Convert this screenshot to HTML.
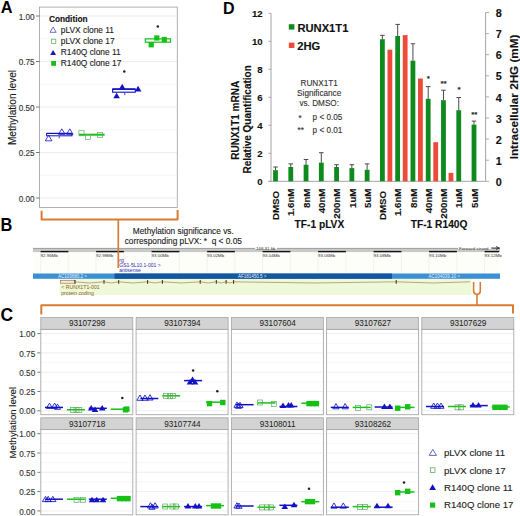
<!DOCTYPE html><html><head><meta charset="utf-8"><style>html,body{margin:0;padding:0;background:#fff;overflow:hidden}svg{display:block}text{font-family:"Liberation Sans",sans-serif}</style></head><body>
<svg width="520" height="516" viewBox="0 0 520 516">
<rect width="520" height="516" fill="#fff"/>
<text x="0" y="0" font-size="17" text-anchor="start" font-weight="bold" fill="#000" transform="translate(0.7,13.1) scale(0.96,1)">A</text>
<rect x="39.5" y="7.1" width="137.8" height="200.4" fill="#fff"/>
<line x1="39.5" x2="177.3" y1="198.0" y2="198.0" stroke="#e8e8e8" stroke-width="0.8"/>
<line x1="39.5" x2="177.3" y1="175.2" y2="175.2" stroke="#f3f3f3" stroke-width="0.8"/>
<line x1="39.5" x2="177.3" y1="152.5" y2="152.5" stroke="#e8e8e8" stroke-width="0.8"/>
<line x1="39.5" x2="177.3" y1="129.8" y2="129.8" stroke="#f3f3f3" stroke-width="0.8"/>
<line x1="39.5" x2="177.3" y1="107.0" y2="107.0" stroke="#e8e8e8" stroke-width="0.8"/>
<line x1="39.5" x2="177.3" y1="84.2" y2="84.2" stroke="#f3f3f3" stroke-width="0.8"/>
<line x1="39.5" x2="177.3" y1="61.5" y2="61.5" stroke="#e8e8e8" stroke-width="0.8"/>
<line x1="39.5" x2="177.3" y1="38.8" y2="38.8" stroke="#f3f3f3" stroke-width="0.8"/>
<line x1="39.5" x2="177.3" y1="16.0" y2="16.0" stroke="#e8e8e8" stroke-width="0.8"/>
<rect x="39.5" y="7.1" width="137.8" height="200.4" fill="none" stroke="#a8a8a8" stroke-width="0.9"/>
<line x1="36" x2="39.5" y1="16.0" y2="16.0" stroke="#555" stroke-width="0.8"/>
<text x="34.6" y="19.5" font-size="8.2" text-anchor="end" fill="#333" stroke="#333" stroke-width="0.12" >1.00</text>
<line x1="36" x2="39.5" y1="61.5" y2="61.5" stroke="#555" stroke-width="0.8"/>
<text x="34.6" y="65.0" font-size="8.2" text-anchor="end" fill="#333" stroke="#333" stroke-width="0.12" >0.75</text>
<line x1="36" x2="39.5" y1="107.0" y2="107.0" stroke="#555" stroke-width="0.8"/>
<text x="34.6" y="110.5" font-size="8.2" text-anchor="end" fill="#333" stroke="#333" stroke-width="0.12" >0.50</text>
<line x1="36" x2="39.5" y1="152.5" y2="152.5" stroke="#555" stroke-width="0.8"/>
<text x="34.6" y="156.0" font-size="8.2" text-anchor="end" fill="#333" stroke="#333" stroke-width="0.12" >0.25</text>
<line x1="36" x2="39.5" y1="198.0" y2="198.0" stroke="#555" stroke-width="0.8"/>
<text x="34.6" y="201.5" font-size="8.2" text-anchor="end" fill="#333" stroke="#333" stroke-width="0.12" >0.00</text>
<text x="0" y="0" font-size="10.1" text-anchor="middle" fill="#1a1a1a" stroke="#1a1a1a" stroke-width="0.12" transform="translate(16.3,107.5) rotate(-90)">Methylation level</text>
<text x="48.9" y="22.2" font-size="8.3" text-anchor="start" font-weight="bold" fill="#111" stroke="#111" stroke-width="0.12" >Condition</text>
<polygon points="53.1,27.0 50.0,32.3 56.2,32.3" fill="none" stroke="#4040b0" stroke-width="0.75"/>
<text x="60.8" y="33.4" font-size="8.4" text-anchor="start" fill="#222" stroke="#222" stroke-width="0.12" >pLVX clone 11</text>
<rect x="51.4" y="39.2" width="4.4" height="4.4" fill="none" stroke="#60b060" stroke-width="0.75"/>
<text x="60.8" y="44.4" font-size="8.4" text-anchor="start" fill="#222" stroke="#222" stroke-width="0.12" >pLVX clone 17</text>
<polygon points="53.1,50.0 50.2,55.1 56.0,55.1" fill="#1212c4"/>
<text x="60.8" y="55.4" font-size="8.4" text-anchor="start" fill="#222" stroke="#222" stroke-width="0.12" >R140Q clone 11</text>
<rect x="51.2" y="61.0" width="4.8" height="4.8" fill="#16c016"/>
<text x="60.8" y="66.3" font-size="8.4" text-anchor="start" fill="#222" stroke="#222" stroke-width="0.12" >R140Q clone 17</text>
<line x1="59.2" x2="59.2" y1="135.8" y2="138.3" stroke="#1212c4" stroke-width="0.8"/>
<rect x="46.6" y="133.5" width="25.4" height="2.3" fill="#fff" stroke="#1212c4" stroke-width="1.0"/>
<line x1="46.6" x2="72.0" y1="133.4" y2="133.4" stroke="#1212c4" stroke-width="1.3"/>
<polygon points="48.6,135.2 45.3,140.8 51.9,140.8" fill="none" stroke="#1212c4" stroke-width="0.8"/>
<polygon points="61.8,128.8 58.5,134.4 65.1,134.4" fill="none" stroke="#1212c4" stroke-width="0.8"/>
<polygon points="69.8,128.8 66.5,134.4 73.1,134.4" fill="none" stroke="#1212c4" stroke-width="0.8"/>
<line x1="79.0" x2="104.6" y1="134.7" y2="134.7" stroke="#16c016" stroke-width="2.0"/>
<rect x="78.9" y="130.7" width="5.1" height="5.1" fill="none" stroke="#58ac58" stroke-width="0.65"/>
<rect x="85.5" y="134.4" width="5.1" height="5.1" fill="none" stroke="#58ac58" stroke-width="0.65"/>
<rect x="97.5" y="132.6" width="5.1" height="5.1" fill="none" stroke="#58ac58" stroke-width="0.65"/>
<line x1="124.8" x2="124.8" y1="92.6" y2="95.2" stroke="#1212c4" stroke-width="0.8"/>
<rect x="112.6" y="89.0" width="22.7" height="3.2" fill="#fff" stroke="#1212c4" stroke-width="1.1"/>
<line x1="112.6" x2="135.3" y1="89.2" y2="89.2" stroke="#1212c4" stroke-width="1.5"/>
<polygon points="116.6,92.8 113.3,98.3 119.9,98.3" fill="#1212c4"/>
<polygon points="122.2,83.8 118.9,89.4 125.5,89.4" fill="#1212c4"/>
<polygon points="138.1,85.8 134.8,91.4 141.4,91.4" fill="#1212c4"/>
<rect x="145.3" y="38.9" width="25.2" height="3.3" fill="#fff" stroke="#16c016" stroke-width="1.2"/>
<rect x="148.6" y="42.2" width="5.2" height="5.2" fill="#16c016"/>
<rect x="154.2" y="35.4" width="5.2" height="5.2" fill="#16c016"/>
<rect x="161.7" y="36.9" width="5.2" height="5.2" fill="#16c016"/>
<circle cx="124.3" cy="71.5" r="1.25" fill="#222"/>
<circle cx="157.8" cy="26.5" r="1.25" fill="#222"/>
<path d="M41.6,210.8 L41.6,219.6 L177.6,219.6 L177.6,210" fill="none" stroke="#d87c34" stroke-width="2.0" stroke-linejoin="round"/>
<text x="0" y="0" font-size="18.6" text-anchor="start" font-weight="bold" fill="#000" transform="translate(0.6,231.4) scale(0.88,1)">B</text>
<text x="183.3" y="234.4" font-size="8.3" text-anchor="middle" fill="#222" stroke="#222" stroke-width="0.12" >Methylation significance vs.</text>
<text x="183.3" y="244.1" font-size="8.3" text-anchor="middle" fill="#222" stroke="#222" stroke-width="0.12" style="white-space:pre">corresponding pLVX: *  q &lt; 0.05</text>
<rect x="33.0" y="252" width="467.0" height="22" fill="#fdfdf9"/>
<rect x="59.6" y="279" width="411.9" height="16" fill="#eef9d9"/>
<line x1="40.6" x2="40.6" y1="253" y2="273.5" stroke="#ebebe3" stroke-width="0.6"/>
<line x1="68.3" x2="68.3" y1="253" y2="273.5" stroke="#ebebe3" stroke-width="0.6"/>
<line x1="96.1" x2="96.1" y1="253" y2="273.5" stroke="#ebebe3" stroke-width="0.6"/>
<line x1="123.8" x2="123.8" y1="253" y2="273.5" stroke="#ebebe3" stroke-width="0.6"/>
<line x1="151.6" x2="151.6" y1="253" y2="273.5" stroke="#ebebe3" stroke-width="0.6"/>
<line x1="179.3" x2="179.3" y1="253" y2="273.5" stroke="#ebebe3" stroke-width="0.6"/>
<line x1="207.1" x2="207.1" y1="253" y2="273.5" stroke="#ebebe3" stroke-width="0.6"/>
<line x1="234.8" x2="234.8" y1="253" y2="273.5" stroke="#ebebe3" stroke-width="0.6"/>
<line x1="262.6" x2="262.6" y1="253" y2="273.5" stroke="#ebebe3" stroke-width="0.6"/>
<line x1="290.4" x2="290.4" y1="253" y2="273.5" stroke="#ebebe3" stroke-width="0.6"/>
<line x1="318.1" x2="318.1" y1="253" y2="273.5" stroke="#ebebe3" stroke-width="0.6"/>
<line x1="345.9" x2="345.9" y1="253" y2="273.5" stroke="#ebebe3" stroke-width="0.6"/>
<line x1="373.6" x2="373.6" y1="253" y2="273.5" stroke="#ebebe3" stroke-width="0.6"/>
<line x1="401.4" x2="401.4" y1="253" y2="273.5" stroke="#ebebe3" stroke-width="0.6"/>
<line x1="429.1" x2="429.1" y1="253" y2="273.5" stroke="#ebebe3" stroke-width="0.6"/>
<line x1="456.9" x2="456.9" y1="253" y2="273.5" stroke="#ebebe3" stroke-width="0.6"/>
<line x1="484.6" x2="484.6" y1="253" y2="273.5" stroke="#ebebe3" stroke-width="0.6"/>
<rect x="33.0" y="248.2" width="467.0" height="3.9" fill="#c9c9c9"/>
<line x1="33.0" x2="500.0" y1="248.4" y2="248.4" stroke="#8a8a8a" stroke-width="0.7"/>
<rect x="40.6" y="250.9" width="27.8" height="1.4" fill="#111"/>
<rect x="96.1" y="250.9" width="27.8" height="1.4" fill="#111"/>
<rect x="151.6" y="250.9" width="27.8" height="1.4" fill="#111"/>
<rect x="207.1" y="250.9" width="27.8" height="1.4" fill="#111"/>
<rect x="262.6" y="250.9" width="27.8" height="1.4" fill="#111"/>
<rect x="318.1" y="250.9" width="27.8" height="1.4" fill="#111"/>
<rect x="373.6" y="250.9" width="27.8" height="1.4" fill="#111"/>
<rect x="429.1" y="250.9" width="27.8" height="1.4" fill="#111"/>
<rect x="484.6" y="250.9" width="14.4" height="1.4" fill="#111"/>
<rect x="255" y="246" width="22" height="3" fill="#fff"/>
<text x="256" y="249.8" font-size="4.4" text-anchor="start" fill="#333" >168.31 kb</text>
<rect x="458" y="246" width="34" height="3" fill="#fff"/>
<text x="459" y="249.5" font-size="4.4" text-anchor="start" fill="#333" >Forward strand</text>
<path d="M491,248 L499,248 M496,246.5 L499.5,248 L496,249.5" stroke="#222" stroke-width="0.8" fill="none"/>
<text x="40.6" y="256.6" font-size="4.4" text-anchor="start" fill="#333" >92.96Mb</text>
<text x="96.1" y="256.6" font-size="4.4" text-anchor="start" fill="#333" >92.98Mb</text>
<text x="151.6" y="256.6" font-size="4.4" text-anchor="start" fill="#333" >93.00Mb</text>
<text x="207.1" y="256.6" font-size="4.4" text-anchor="start" fill="#333" >93.02Mb</text>
<text x="262.6" y="256.6" font-size="4.4" text-anchor="start" fill="#333" >93.04Mb</text>
<text x="318.1" y="256.6" font-size="4.4" text-anchor="start" fill="#333" >93.06Mb</text>
<text x="373.6" y="256.6" font-size="4.4" text-anchor="start" fill="#333" >93.08Mb</text>
<text x="429.1" y="256.6" font-size="4.4" text-anchor="start" fill="#333" >93.10Mb</text>
<text x="484.6" y="256.6" font-size="4.4" text-anchor="start" fill="#333" >93.12Mb</text>
<line x1="118.3" x2="118.3" y1="219.6" y2="268" stroke="#d87c34" stroke-width="1.7"/>
<text x="119.3" y="261.6" font-size="5.0" text-anchor="start" fill="#2a2ab0" >rg</text>
<text x="119.3" y="267.2" font-size="5.0" text-anchor="start" fill="#2a2ab0" >GS1-5L10.1-001 &gt;</text>
<text x="119.3" y="272.4" font-size="5.0" text-anchor="start" fill="#2a2ab0" >antisense</text>
<rect x="33.0" y="273.5" width="467.0" height="5.3" fill="#3b8fd3"/>
<rect x="114.5" y="273.5" width="277.5" height="5.3" fill="#14569f"/>
<text x="58" y="277.8" font-size="4.5" text-anchor="start" fill="#e8f0ff" >AC103680.2 &gt;</text>
<text x="238" y="277.8" font-size="4.5" text-anchor="start" fill="#e8f0ff" >AF181450.5 &gt;</text>
<text x="428.5" y="277.8" font-size="4.5" text-anchor="start" fill="#e8f0ff" >AC104039.10 &gt;</text>
<rect x="60.6" y="280.4" width="14.2" height="2.8" fill="#f6ead8" stroke="#9b6b3c" stroke-width="0.6"/>
<path d="M75.0,281.8 L89.5,283.0 L104.0,281.8 M104.0,281.8 L111.3,283.0 L118.7,281.8 M118.7,281.8 L133.2,283.0 L147.6,281.8 M147.6,281.8 L155.0,283.0 L162.4,281.8 M162.4,281.8 L181.3,283.0 L200.2,281.8 M200.2,281.8 L208.2,283.0 L216.3,281.8 M216.3,281.8 L221.2,283.0 L226.1,281.8 M226.1,281.8 L229.8,283.0 L233.6,281.8 M233.6,281.8 L314.9,283.0 L396.2,281.8 M396.2,281.8 L433.1,283.0 L470.0,281.8" fill="none" stroke="#9b6b3c" stroke-width="0.6"/>
<line x1="75.0" x2="75.0" y1="280.0" y2="283.8" stroke="#4a2a10" stroke-width="1.0"/>
<line x1="104.0" x2="104.0" y1="280.0" y2="283.8" stroke="#4a2a10" stroke-width="1.0"/>
<line x1="118.7" x2="118.7" y1="280.0" y2="283.8" stroke="#4a2a10" stroke-width="1.0"/>
<line x1="147.6" x2="147.6" y1="280.0" y2="283.8" stroke="#4a2a10" stroke-width="1.0"/>
<line x1="162.4" x2="162.4" y1="280.0" y2="283.8" stroke="#4a2a10" stroke-width="1.0"/>
<line x1="200.2" x2="200.2" y1="280.0" y2="283.8" stroke="#4a2a10" stroke-width="1.0"/>
<line x1="216.3" x2="216.3" y1="280.0" y2="283.8" stroke="#4a2a10" stroke-width="1.0"/>
<line x1="226.1" x2="226.1" y1="280.0" y2="283.8" stroke="#4a2a10" stroke-width="1.0"/>
<line x1="233.6" x2="233.6" y1="280.0" y2="283.8" stroke="#4a2a10" stroke-width="1.0"/>
<line x1="396.2" x2="396.2" y1="280.0" y2="283.8" stroke="#4a2a10" stroke-width="1.0"/>
<text x="61.2" y="289.3" font-size="5.2" text-anchor="start" fill="#8a5a20" >&lt; RUNX1T1-001</text>
<text x="61.2" y="294.6" font-size="5.2" text-anchor="start" fill="#8a5a20" >protein coding</text>
<path d="M473.6,282 L473.6,291 Q473.6,294 477,294.5 Q480.3,294 480.3,291 L480.3,282" fill="none" stroke="#d87c34" stroke-width="1.6"/>
<line x1="477" x2="477" y1="294" y2="305" stroke="#d87c34" stroke-width="1.6"/>
<path d="M41.3,314.5 L41.3,305.3 L513,305.3 L513,313.5" fill="none" stroke="#d87c34" stroke-width="2.0" stroke-linejoin="round"/>
<text x="222.9" y="13.6" font-size="16" text-anchor="start" font-weight="bold" fill="#000" >D</text>
<line x1="271" x2="271" y1="13.3" y2="181.3" stroke="#9a9a9a" stroke-width="0.9"/>
<line x1="268.5" x2="485.6" y1="181.3" y2="181.3" stroke="#9a9a9a" stroke-width="0.9"/>
<line x1="485.6" x2="485.6" y1="12.5" y2="181.3" stroke="#9a9a9a" stroke-width="0.9"/>
<line x1="268.3" x2="271" y1="181.3" y2="181.3" stroke="#9a9a9a" stroke-width="0.8"/>
<text x="262.6" y="185.2" font-size="9.6" text-anchor="end" font-weight="bold" fill="#111" stroke="#111" stroke-width="0.12" >0</text>
<line x1="268.3" x2="271" y1="153.3" y2="153.3" stroke="#9a9a9a" stroke-width="0.8"/>
<text x="262.6" y="157.2" font-size="9.6" text-anchor="end" font-weight="bold" fill="#111" stroke="#111" stroke-width="0.12" >2</text>
<line x1="268.3" x2="271" y1="125.3" y2="125.3" stroke="#9a9a9a" stroke-width="0.8"/>
<text x="262.6" y="129.2" font-size="9.6" text-anchor="end" font-weight="bold" fill="#111" stroke="#111" stroke-width="0.12" >4</text>
<line x1="268.3" x2="271" y1="97.3" y2="97.3" stroke="#9a9a9a" stroke-width="0.8"/>
<text x="262.6" y="101.2" font-size="9.6" text-anchor="end" font-weight="bold" fill="#111" stroke="#111" stroke-width="0.12" >6</text>
<line x1="268.3" x2="271" y1="69.3" y2="69.3" stroke="#9a9a9a" stroke-width="0.8"/>
<text x="262.6" y="73.2" font-size="9.6" text-anchor="end" font-weight="bold" fill="#111" stroke="#111" stroke-width="0.12" >8</text>
<line x1="268.3" x2="271" y1="41.3" y2="41.3" stroke="#9a9a9a" stroke-width="0.8"/>
<text x="262.6" y="45.2" font-size="9.6" text-anchor="end" font-weight="bold" fill="#111" stroke="#111" stroke-width="0.12" >10</text>
<line x1="268.3" x2="271" y1="13.3" y2="13.3" stroke="#9a9a9a" stroke-width="0.8"/>
<text x="262.6" y="17.2" font-size="9.6" text-anchor="end" font-weight="bold" fill="#111" stroke="#111" stroke-width="0.12" >12</text>
<line x1="485.6" x2="489" y1="181.3" y2="181.3" stroke="#9a9a9a" stroke-width="0.8"/>
<text x="495.7" y="185.9" font-size="10.8" text-anchor="start" font-weight="bold" fill="#111" stroke="#111" stroke-width="0.12" >0</text>
<line x1="485.6" x2="489" y1="160.2" y2="160.2" stroke="#9a9a9a" stroke-width="0.8"/>
<text x="495.7" y="164.8" font-size="10.8" text-anchor="start" font-weight="bold" fill="#111" stroke="#111" stroke-width="0.12" >1</text>
<line x1="485.6" x2="489" y1="139.1" y2="139.1" stroke="#9a9a9a" stroke-width="0.8"/>
<text x="495.7" y="143.7" font-size="10.8" text-anchor="start" font-weight="bold" fill="#111" stroke="#111" stroke-width="0.12" >2</text>
<line x1="485.6" x2="489" y1="118.0" y2="118.0" stroke="#9a9a9a" stroke-width="0.8"/>
<text x="495.7" y="122.6" font-size="10.8" text-anchor="start" font-weight="bold" fill="#111" stroke="#111" stroke-width="0.12" >3</text>
<line x1="485.6" x2="489" y1="96.9" y2="96.9" stroke="#9a9a9a" stroke-width="0.8"/>
<text x="495.7" y="101.5" font-size="10.8" text-anchor="start" font-weight="bold" fill="#111" stroke="#111" stroke-width="0.12" >4</text>
<line x1="485.6" x2="489" y1="75.8" y2="75.8" stroke="#9a9a9a" stroke-width="0.8"/>
<text x="495.7" y="80.4" font-size="10.8" text-anchor="start" font-weight="bold" fill="#111" stroke="#111" stroke-width="0.12" >5</text>
<line x1="485.6" x2="489" y1="54.7" y2="54.7" stroke="#9a9a9a" stroke-width="0.8"/>
<text x="495.7" y="59.3" font-size="10.8" text-anchor="start" font-weight="bold" fill="#111" stroke="#111" stroke-width="0.12" >6</text>
<line x1="485.6" x2="489" y1="33.6" y2="33.6" stroke="#9a9a9a" stroke-width="0.8"/>
<text x="495.7" y="38.2" font-size="10.8" text-anchor="start" font-weight="bold" fill="#111" stroke="#111" stroke-width="0.12" >7</text>
<line x1="485.6" x2="489" y1="12.5" y2="12.5" stroke="#9a9a9a" stroke-width="0.8"/>
<text x="495.7" y="17.1" font-size="10.8" text-anchor="start" font-weight="bold" fill="#111" stroke="#111" stroke-width="0.12" >8</text>
<text x="0" y="0" font-size="10" text-anchor="middle" font-weight="bold" fill="#111" stroke="#111" stroke-width="0.12" transform="translate(239.4,120.3) rotate(-90)">RUNX1T1 mRNA</text>
<text x="0" y="0" font-size="10" text-anchor="middle" font-weight="bold" fill="#111" stroke="#111" stroke-width="0.12" transform="translate(251.0,119.4) rotate(-90)">Relative Quantification</text>
<text x="0" y="0" font-size="11.7" text-anchor="middle" font-weight="bold" fill="#111" stroke="#111" stroke-width="0.12" transform="translate(517.6,97.0) rotate(-90)">Intracellular 2HG (mM)</text>
<rect x="288.8" y="24.2" width="5.6" height="5.4" fill="#0e8a1e"/>
<text x="297.4" y="31.5" font-size="11.2" text-anchor="start" font-weight="bold" fill="#111" stroke="#111" stroke-width="0.12" >RUNX1T1</text>
<rect x="288.8" y="42.6" width="5.6" height="5.4" fill="#ee4a3a"/>
<text x="297.2" y="49.6" font-size="11.2" text-anchor="start" font-weight="bold" fill="#111" stroke="#111" stroke-width="0.12" >2HG</text>
<text x="319.2" y="86.0" font-size="8.2" text-anchor="middle" fill="#333" stroke="#333" stroke-width="0.12" >RUNX1T1</text>
<text x="319.2" y="96.0" font-size="8.2" text-anchor="middle" fill="#333" stroke="#333" stroke-width="0.12" >Significance</text>
<text x="319.2" y="106.4" font-size="8.2" text-anchor="middle" fill="#333" stroke="#333" stroke-width="0.12" >vs. DMSO:</text>
<text x="298.5" y="120.5" font-size="8.2" text-anchor="start" fill="#333" stroke="#333" stroke-width="0.12" >*</text>
<text x="312.6" y="120.2" font-size="8.2" text-anchor="start" fill="#333" stroke="#333" stroke-width="0.12" >p &lt; 0.05</text>
<text x="297.6" y="133.2" font-size="8.2" text-anchor="start" fill="#333" stroke="#333" stroke-width="0.12" >**</text>
<text x="312.6" y="132.9" font-size="8.2" text-anchor="start" fill="#333" stroke="#333" stroke-width="0.12" >p &lt; 0.01</text>
<rect x="273.10" y="170.2" width="4.8" height="11.1" fill="#0e8a1e"/>
<line x1="275.50" x2="275.50" y1="167.0" y2="170.2" stroke="#4a4a4a" stroke-width="1.0"/>
<line x1="273.20" x2="277.80" y1="167.0" y2="167.0" stroke="#4a4a4a" stroke-width="1.0"/>
<text x="0" y="0" font-size="9.7" text-anchor="end" font-weight="bold" fill="#111" stroke="#111" stroke-width="0.12" transform="translate(279.20,191.0) rotate(-90)">DMSO</text>
<rect x="288.37" y="167.0" width="4.8" height="14.3" fill="#0e8a1e"/>
<line x1="290.77" x2="290.77" y1="163.9" y2="167.0" stroke="#4a4a4a" stroke-width="1.0"/>
<line x1="288.47" x2="293.07" y1="163.9" y2="163.9" stroke="#4a4a4a" stroke-width="1.0"/>
<text x="0" y="0" font-size="9.7" text-anchor="end" font-weight="bold" fill="#111" stroke="#111" stroke-width="0.12" transform="translate(294.47,188.6) rotate(-90)">1.6nM</text>
<rect x="303.64" y="164.7" width="4.8" height="16.6" fill="#0e8a1e"/>
<line x1="306.04" x2="306.04" y1="159.5" y2="164.7" stroke="#4a4a4a" stroke-width="1.0"/>
<line x1="303.74" x2="308.34" y1="159.5" y2="159.5" stroke="#4a4a4a" stroke-width="1.0"/>
<text x="0" y="0" font-size="9.7" text-anchor="end" font-weight="bold" fill="#111" stroke="#111" stroke-width="0.12" transform="translate(309.74,188.6) rotate(-90)">8nM</text>
<rect x="318.91" y="162.6" width="4.8" height="18.7" fill="#0e8a1e"/>
<line x1="321.31" x2="321.31" y1="152.7" y2="162.6" stroke="#4a4a4a" stroke-width="1.0"/>
<line x1="319.01" x2="323.61" y1="152.7" y2="152.7" stroke="#4a4a4a" stroke-width="1.0"/>
<text x="0" y="0" font-size="9.7" text-anchor="end" font-weight="bold" fill="#111" stroke="#111" stroke-width="0.12" transform="translate(325.01,188.6) rotate(-90)">40nM</text>
<rect x="334.18" y="167.0" width="4.8" height="14.3" fill="#0e8a1e"/>
<line x1="336.58" x2="336.58" y1="164.7" y2="167.0" stroke="#4a4a4a" stroke-width="1.0"/>
<line x1="334.28" x2="338.88" y1="164.7" y2="164.7" stroke="#4a4a4a" stroke-width="1.0"/>
<text x="0" y="0" font-size="9.7" text-anchor="end" font-weight="bold" fill="#111" stroke="#111" stroke-width="0.12" transform="translate(340.28,188.6) rotate(-90)">200nM</text>
<rect x="349.45" y="168.1" width="4.8" height="13.2" fill="#0e8a1e"/>
<line x1="351.85" x2="351.85" y1="164.7" y2="168.1" stroke="#4a4a4a" stroke-width="1.0"/>
<line x1="349.55" x2="354.15" y1="164.7" y2="164.7" stroke="#4a4a4a" stroke-width="1.0"/>
<text x="0" y="0" font-size="9.7" text-anchor="end" font-weight="bold" fill="#111" stroke="#111" stroke-width="0.12" transform="translate(355.55,188.6) rotate(-90)">1uM</text>
<rect x="364.72" y="169.8" width="4.8" height="11.5" fill="#0e8a1e"/>
<line x1="367.12" x2="367.12" y1="163.9" y2="169.8" stroke="#4a4a4a" stroke-width="1.0"/>
<line x1="364.82" x2="369.42" y1="163.9" y2="163.9" stroke="#4a4a4a" stroke-width="1.0"/>
<text x="0" y="0" font-size="9.7" text-anchor="end" font-weight="bold" fill="#111" stroke="#111" stroke-width="0.12" transform="translate(370.82,188.6) rotate(-90)">5uM</text>
<rect x="379.99" y="39.2" width="4.8" height="142.1" fill="#0e8a1e"/>
<line x1="382.39" x2="382.39" y1="35.3" y2="39.2" stroke="#4a4a4a" stroke-width="1.0"/>
<line x1="380.09" x2="384.69" y1="35.3" y2="35.3" stroke="#4a4a4a" stroke-width="1.0"/>
<rect x="387.49" y="49.7" width="4.8" height="131.6" fill="#ee4a3a"/>
<text x="0" y="0" font-size="9.7" text-anchor="end" font-weight="bold" fill="#111" stroke="#111" stroke-width="0.12" transform="translate(386.09,191.0) rotate(-90)">DMSO</text>
<rect x="395.26" y="36.0" width="4.8" height="145.3" fill="#0e8a1e"/>
<line x1="397.66" x2="397.66" y1="24.4" y2="36.0" stroke="#4a4a4a" stroke-width="1.0"/>
<line x1="395.36" x2="399.96" y1="24.4" y2="24.4" stroke="#4a4a4a" stroke-width="1.0"/>
<rect x="402.76" y="35.1" width="4.8" height="146.2" fill="#ee4a3a"/>
<text x="0" y="0" font-size="9.7" text-anchor="end" font-weight="bold" fill="#111" stroke="#111" stroke-width="0.12" transform="translate(401.36,188.6) rotate(-90)">1.6nM</text>
<rect x="410.53" y="60.7" width="4.8" height="120.6" fill="#0e8a1e"/>
<line x1="412.93" x2="412.93" y1="43.8" y2="60.7" stroke="#4a4a4a" stroke-width="1.0"/>
<line x1="410.63" x2="415.23" y1="43.8" y2="43.8" stroke="#4a4a4a" stroke-width="1.0"/>
<rect x="418.03" y="78.5" width="4.8" height="102.8" fill="#ee4a3a"/>
<text x="0" y="0" font-size="9.7" text-anchor="end" font-weight="bold" fill="#111" stroke="#111" stroke-width="0.12" transform="translate(416.63,188.6) rotate(-90)">8nM</text>
<rect x="425.80" y="98.8" width="4.8" height="82.5" fill="#0e8a1e"/>
<line x1="428.20" x2="428.20" y1="86.6" y2="98.8" stroke="#4a4a4a" stroke-width="1.0"/>
<line x1="425.90" x2="430.50" y1="86.6" y2="86.6" stroke="#4a4a4a" stroke-width="1.0"/>
<rect x="433.30" y="142.2" width="4.8" height="39.1" fill="#ee4a3a"/>
<text x="0" y="0" font-size="9.7" text-anchor="end" font-weight="bold" fill="#111" stroke="#111" stroke-width="0.12" transform="translate(431.90,188.6) rotate(-90)">40nM</text>
<rect x="441.07" y="100.2" width="4.8" height="81.1" fill="#0e8a1e"/>
<line x1="443.47" x2="443.47" y1="90.2" y2="100.2" stroke="#4a4a4a" stroke-width="1.0"/>
<line x1="441.17" x2="445.77" y1="90.2" y2="90.2" stroke="#4a4a4a" stroke-width="1.0"/>
<rect x="448.57" y="172.9" width="4.8" height="8.4" fill="#ee4a3a"/>
<text x="0" y="0" font-size="9.7" text-anchor="end" font-weight="bold" fill="#111" stroke="#111" stroke-width="0.12" transform="translate(447.17,188.6) rotate(-90)">200nM</text>
<rect x="456.34" y="110.2" width="4.8" height="71.1" fill="#0e8a1e"/>
<line x1="458.74" x2="458.74" y1="97.5" y2="110.2" stroke="#4a4a4a" stroke-width="1.0"/>
<line x1="456.44" x2="461.04" y1="97.5" y2="97.5" stroke="#4a4a4a" stroke-width="1.0"/>
<text x="0" y="0" font-size="9.7" text-anchor="end" font-weight="bold" fill="#111" stroke="#111" stroke-width="0.12" transform="translate(462.44,188.6) rotate(-90)">1uM</text>
<rect x="471.61" y="124.6" width="4.8" height="56.7" fill="#0e8a1e"/>
<line x1="474.01" x2="474.01" y1="121.1" y2="124.6" stroke="#4a4a4a" stroke-width="1.0"/>
<line x1="471.71" x2="476.31" y1="121.1" y2="121.1" stroke="#4a4a4a" stroke-width="1.0"/>
<text x="0" y="0" font-size="9.7" text-anchor="end" font-weight="bold" fill="#111" stroke="#111" stroke-width="0.12" transform="translate(477.71,188.6) rotate(-90)">5uM</text>
<text x="428.4" y="80.5" font-size="8" text-anchor="middle" font-weight="bold" fill="#222" stroke="#222" stroke-width="0.12" >*</text>
<text x="443.6" y="86.3" font-size="8" text-anchor="middle" font-weight="bold" fill="#222" stroke="#222" stroke-width="0.12" >**</text>
<text x="459.1" y="92.0" font-size="8" text-anchor="middle" font-weight="bold" fill="#222" stroke="#222" stroke-width="0.12" >*</text>
<text x="474.3" y="117.0" font-size="8" text-anchor="middle" font-weight="bold" fill="#222" stroke="#222" stroke-width="0.12" >**</text>
<text x="319.4" y="228.2" font-size="10.2" text-anchor="middle" font-weight="bold" fill="#111" stroke="#111" stroke-width="0.12" >TF-1 pLVX</text>
<text x="439.1" y="228.2" font-size="10.2" text-anchor="middle" font-weight="bold" fill="#111" stroke="#111" stroke-width="0.12" >TF-1 R140Q</text>
<text x="0" y="0" font-size="18.6" text-anchor="start" font-weight="bold" fill="#000" transform="translate(0.4,321.4) scale(0.94,1)">C</text>
<line x1="37.4" x2="40.8" y1="410.8" y2="410.8" stroke="#555" stroke-width="0.8"/>
<text x="35.2" y="414.4" font-size="8.2" text-anchor="end" fill="#333" stroke="#333" stroke-width="0.12" >0.00</text>
<line x1="37.4" x2="40.8" y1="391.5" y2="391.5" stroke="#555" stroke-width="0.8"/>
<text x="35.2" y="395.1" font-size="8.2" text-anchor="end" fill="#333" stroke="#333" stroke-width="0.12" >0.25</text>
<line x1="37.4" x2="40.8" y1="372.2" y2="372.2" stroke="#555" stroke-width="0.8"/>
<text x="35.2" y="375.8" font-size="8.2" text-anchor="end" fill="#333" stroke="#333" stroke-width="0.12" >0.50</text>
<line x1="37.4" x2="40.8" y1="352.9" y2="352.9" stroke="#555" stroke-width="0.8"/>
<text x="35.2" y="356.5" font-size="8.2" text-anchor="end" fill="#333" stroke="#333" stroke-width="0.12" >0.75</text>
<line x1="37.4" x2="40.8" y1="333.6" y2="333.6" stroke="#555" stroke-width="0.8"/>
<text x="35.2" y="337.2" font-size="8.2" text-anchor="end" fill="#333" stroke="#333" stroke-width="0.12" >1.00</text>
<rect x="40.8" y="329.3" width="92.0" height="85.4" fill="#fff"/>
<line x1="40.8" x2="132.8" y1="410.8" y2="410.8" stroke="#e8e8e8" stroke-width="0.7"/>
<line x1="40.8" x2="132.8" y1="401.2" y2="401.2" stroke="#f3f3f3" stroke-width="0.7"/>
<line x1="40.8" x2="132.8" y1="391.5" y2="391.5" stroke="#e8e8e8" stroke-width="0.7"/>
<line x1="40.8" x2="132.8" y1="381.9" y2="381.9" stroke="#f3f3f3" stroke-width="0.7"/>
<line x1="40.8" x2="132.8" y1="372.2" y2="372.2" stroke="#e8e8e8" stroke-width="0.7"/>
<line x1="40.8" x2="132.8" y1="362.6" y2="362.6" stroke="#f3f3f3" stroke-width="0.7"/>
<line x1="40.8" x2="132.8" y1="352.9" y2="352.9" stroke="#e8e8e8" stroke-width="0.7"/>
<line x1="40.8" x2="132.8" y1="343.2" y2="343.2" stroke="#f3f3f3" stroke-width="0.7"/>
<line x1="40.8" x2="132.8" y1="333.6" y2="333.6" stroke="#e8e8e8" stroke-width="0.7"/>
<rect x="40.8" y="329.3" width="92.0" height="85.4" fill="none" stroke="#a8a8a8" stroke-width="0.9"/>
<rect x="40.8" y="317.5" width="92.0" height="11.8" fill="#d3d3d3" stroke="#a5a5a5" stroke-width="0.8"/>
<text x="87.1" y="326.2" font-size="8.2" text-anchor="middle" fill="#1a1a1a" >93107298</text>
<rect x="136.1" y="329.3" width="92.0" height="85.4" fill="#fff"/>
<line x1="136.1" x2="228.1" y1="410.8" y2="410.8" stroke="#e8e8e8" stroke-width="0.7"/>
<line x1="136.1" x2="228.1" y1="401.2" y2="401.2" stroke="#f3f3f3" stroke-width="0.7"/>
<line x1="136.1" x2="228.1" y1="391.5" y2="391.5" stroke="#e8e8e8" stroke-width="0.7"/>
<line x1="136.1" x2="228.1" y1="381.9" y2="381.9" stroke="#f3f3f3" stroke-width="0.7"/>
<line x1="136.1" x2="228.1" y1="372.2" y2="372.2" stroke="#e8e8e8" stroke-width="0.7"/>
<line x1="136.1" x2="228.1" y1="362.6" y2="362.6" stroke="#f3f3f3" stroke-width="0.7"/>
<line x1="136.1" x2="228.1" y1="352.9" y2="352.9" stroke="#e8e8e8" stroke-width="0.7"/>
<line x1="136.1" x2="228.1" y1="343.2" y2="343.2" stroke="#f3f3f3" stroke-width="0.7"/>
<line x1="136.1" x2="228.1" y1="333.6" y2="333.6" stroke="#e8e8e8" stroke-width="0.7"/>
<rect x="136.1" y="329.3" width="92.0" height="85.4" fill="none" stroke="#a8a8a8" stroke-width="0.9"/>
<rect x="136.1" y="317.5" width="92.0" height="11.8" fill="#d3d3d3" stroke="#a5a5a5" stroke-width="0.8"/>
<text x="182.4" y="326.2" font-size="8.2" text-anchor="middle" fill="#1a1a1a" >93107394</text>
<rect x="231.4" y="329.3" width="92.0" height="85.4" fill="#fff"/>
<line x1="231.4" x2="323.4" y1="410.8" y2="410.8" stroke="#e8e8e8" stroke-width="0.7"/>
<line x1="231.4" x2="323.4" y1="401.2" y2="401.2" stroke="#f3f3f3" stroke-width="0.7"/>
<line x1="231.4" x2="323.4" y1="391.5" y2="391.5" stroke="#e8e8e8" stroke-width="0.7"/>
<line x1="231.4" x2="323.4" y1="381.9" y2="381.9" stroke="#f3f3f3" stroke-width="0.7"/>
<line x1="231.4" x2="323.4" y1="372.2" y2="372.2" stroke="#e8e8e8" stroke-width="0.7"/>
<line x1="231.4" x2="323.4" y1="362.6" y2="362.6" stroke="#f3f3f3" stroke-width="0.7"/>
<line x1="231.4" x2="323.4" y1="352.9" y2="352.9" stroke="#e8e8e8" stroke-width="0.7"/>
<line x1="231.4" x2="323.4" y1="343.2" y2="343.2" stroke="#f3f3f3" stroke-width="0.7"/>
<line x1="231.4" x2="323.4" y1="333.6" y2="333.6" stroke="#e8e8e8" stroke-width="0.7"/>
<rect x="231.4" y="329.3" width="92.0" height="85.4" fill="none" stroke="#a8a8a8" stroke-width="0.9"/>
<rect x="231.4" y="317.5" width="92.0" height="11.8" fill="#d3d3d3" stroke="#a5a5a5" stroke-width="0.8"/>
<text x="277.7" y="326.2" font-size="8.2" text-anchor="middle" fill="#1a1a1a" >93107604</text>
<rect x="326.6" y="329.3" width="92.0" height="85.4" fill="#fff"/>
<line x1="326.6" x2="418.6" y1="410.8" y2="410.8" stroke="#e8e8e8" stroke-width="0.7"/>
<line x1="326.6" x2="418.6" y1="401.2" y2="401.2" stroke="#f3f3f3" stroke-width="0.7"/>
<line x1="326.6" x2="418.6" y1="391.5" y2="391.5" stroke="#e8e8e8" stroke-width="0.7"/>
<line x1="326.6" x2="418.6" y1="381.9" y2="381.9" stroke="#f3f3f3" stroke-width="0.7"/>
<line x1="326.6" x2="418.6" y1="372.2" y2="372.2" stroke="#e8e8e8" stroke-width="0.7"/>
<line x1="326.6" x2="418.6" y1="362.6" y2="362.6" stroke="#f3f3f3" stroke-width="0.7"/>
<line x1="326.6" x2="418.6" y1="352.9" y2="352.9" stroke="#e8e8e8" stroke-width="0.7"/>
<line x1="326.6" x2="418.6" y1="343.2" y2="343.2" stroke="#f3f3f3" stroke-width="0.7"/>
<line x1="326.6" x2="418.6" y1="333.6" y2="333.6" stroke="#e8e8e8" stroke-width="0.7"/>
<rect x="326.6" y="329.3" width="92.0" height="85.4" fill="none" stroke="#a8a8a8" stroke-width="0.9"/>
<rect x="326.6" y="317.5" width="92.0" height="11.8" fill="#d3d3d3" stroke="#a5a5a5" stroke-width="0.8"/>
<text x="372.9" y="326.2" font-size="8.2" text-anchor="middle" fill="#1a1a1a" >93107627</text>
<rect x="421.8" y="329.3" width="92.0" height="85.4" fill="#fff"/>
<line x1="421.8" x2="513.8" y1="410.8" y2="410.8" stroke="#e8e8e8" stroke-width="0.7"/>
<line x1="421.8" x2="513.8" y1="401.2" y2="401.2" stroke="#f3f3f3" stroke-width="0.7"/>
<line x1="421.8" x2="513.8" y1="391.5" y2="391.5" stroke="#e8e8e8" stroke-width="0.7"/>
<line x1="421.8" x2="513.8" y1="381.9" y2="381.9" stroke="#f3f3f3" stroke-width="0.7"/>
<line x1="421.8" x2="513.8" y1="372.2" y2="372.2" stroke="#e8e8e8" stroke-width="0.7"/>
<line x1="421.8" x2="513.8" y1="362.6" y2="362.6" stroke="#f3f3f3" stroke-width="0.7"/>
<line x1="421.8" x2="513.8" y1="352.9" y2="352.9" stroke="#e8e8e8" stroke-width="0.7"/>
<line x1="421.8" x2="513.8" y1="343.2" y2="343.2" stroke="#f3f3f3" stroke-width="0.7"/>
<line x1="421.8" x2="513.8" y1="333.6" y2="333.6" stroke="#e8e8e8" stroke-width="0.7"/>
<rect x="421.8" y="329.3" width="92.0" height="85.4" fill="none" stroke="#a8a8a8" stroke-width="0.9"/>
<rect x="421.8" y="317.5" width="92.0" height="11.8" fill="#d3d3d3" stroke="#a5a5a5" stroke-width="0.8"/>
<text x="468.1" y="326.2" font-size="8.2" text-anchor="middle" fill="#1a1a1a" >93107629</text>
<line x1="37.4" x2="40.8" y1="510.9" y2="510.9" stroke="#555" stroke-width="0.8"/>
<text x="35.2" y="514.5" font-size="8.2" text-anchor="end" fill="#333" stroke="#333" stroke-width="0.12" >0.00</text>
<line x1="37.4" x2="40.8" y1="491.6" y2="491.6" stroke="#555" stroke-width="0.8"/>
<text x="35.2" y="495.2" font-size="8.2" text-anchor="end" fill="#333" stroke="#333" stroke-width="0.12" >0.25</text>
<line x1="37.4" x2="40.8" y1="472.3" y2="472.3" stroke="#555" stroke-width="0.8"/>
<text x="35.2" y="475.9" font-size="8.2" text-anchor="end" fill="#333" stroke="#333" stroke-width="0.12" >0.50</text>
<line x1="37.4" x2="40.8" y1="453.0" y2="453.0" stroke="#555" stroke-width="0.8"/>
<text x="35.2" y="456.6" font-size="8.2" text-anchor="end" fill="#333" stroke="#333" stroke-width="0.12" >0.75</text>
<line x1="37.4" x2="40.8" y1="433.7" y2="433.7" stroke="#555" stroke-width="0.8"/>
<text x="35.2" y="437.3" font-size="8.2" text-anchor="end" fill="#333" stroke="#333" stroke-width="0.12" >1.00</text>
<rect x="40.8" y="429.5" width="92.0" height="85.3" fill="#fff"/>
<line x1="40.8" x2="132.8" y1="510.9" y2="510.9" stroke="#e8e8e8" stroke-width="0.7"/>
<line x1="40.8" x2="132.8" y1="501.2" y2="501.2" stroke="#f3f3f3" stroke-width="0.7"/>
<line x1="40.8" x2="132.8" y1="491.6" y2="491.6" stroke="#e8e8e8" stroke-width="0.7"/>
<line x1="40.8" x2="132.8" y1="481.9" y2="481.9" stroke="#f3f3f3" stroke-width="0.7"/>
<line x1="40.8" x2="132.8" y1="472.3" y2="472.3" stroke="#e8e8e8" stroke-width="0.7"/>
<line x1="40.8" x2="132.8" y1="462.6" y2="462.6" stroke="#f3f3f3" stroke-width="0.7"/>
<line x1="40.8" x2="132.8" y1="453.0" y2="453.0" stroke="#e8e8e8" stroke-width="0.7"/>
<line x1="40.8" x2="132.8" y1="443.3" y2="443.3" stroke="#f3f3f3" stroke-width="0.7"/>
<line x1="40.8" x2="132.8" y1="433.7" y2="433.7" stroke="#e8e8e8" stroke-width="0.7"/>
<rect x="40.8" y="429.5" width="92.0" height="85.3" fill="none" stroke="#a8a8a8" stroke-width="0.9"/>
<rect x="40.8" y="417.8" width="92.0" height="11.7" fill="#d3d3d3" stroke="#a5a5a5" stroke-width="0.8"/>
<text x="87.1" y="426.5" font-size="8.2" text-anchor="middle" fill="#1a1a1a" >93107718</text>
<rect x="136.1" y="429.5" width="92.0" height="85.3" fill="#fff"/>
<line x1="136.1" x2="228.1" y1="510.9" y2="510.9" stroke="#e8e8e8" stroke-width="0.7"/>
<line x1="136.1" x2="228.1" y1="501.2" y2="501.2" stroke="#f3f3f3" stroke-width="0.7"/>
<line x1="136.1" x2="228.1" y1="491.6" y2="491.6" stroke="#e8e8e8" stroke-width="0.7"/>
<line x1="136.1" x2="228.1" y1="481.9" y2="481.9" stroke="#f3f3f3" stroke-width="0.7"/>
<line x1="136.1" x2="228.1" y1="472.3" y2="472.3" stroke="#e8e8e8" stroke-width="0.7"/>
<line x1="136.1" x2="228.1" y1="462.6" y2="462.6" stroke="#f3f3f3" stroke-width="0.7"/>
<line x1="136.1" x2="228.1" y1="453.0" y2="453.0" stroke="#e8e8e8" stroke-width="0.7"/>
<line x1="136.1" x2="228.1" y1="443.3" y2="443.3" stroke="#f3f3f3" stroke-width="0.7"/>
<line x1="136.1" x2="228.1" y1="433.7" y2="433.7" stroke="#e8e8e8" stroke-width="0.7"/>
<rect x="136.1" y="429.5" width="92.0" height="85.3" fill="none" stroke="#a8a8a8" stroke-width="0.9"/>
<rect x="136.1" y="417.8" width="92.0" height="11.7" fill="#d3d3d3" stroke="#a5a5a5" stroke-width="0.8"/>
<text x="182.4" y="426.5" font-size="8.2" text-anchor="middle" fill="#1a1a1a" >93107744</text>
<rect x="231.4" y="429.5" width="92.0" height="85.3" fill="#fff"/>
<line x1="231.4" x2="323.4" y1="510.9" y2="510.9" stroke="#e8e8e8" stroke-width="0.7"/>
<line x1="231.4" x2="323.4" y1="501.2" y2="501.2" stroke="#f3f3f3" stroke-width="0.7"/>
<line x1="231.4" x2="323.4" y1="491.6" y2="491.6" stroke="#e8e8e8" stroke-width="0.7"/>
<line x1="231.4" x2="323.4" y1="481.9" y2="481.9" stroke="#f3f3f3" stroke-width="0.7"/>
<line x1="231.4" x2="323.4" y1="472.3" y2="472.3" stroke="#e8e8e8" stroke-width="0.7"/>
<line x1="231.4" x2="323.4" y1="462.6" y2="462.6" stroke="#f3f3f3" stroke-width="0.7"/>
<line x1="231.4" x2="323.4" y1="453.0" y2="453.0" stroke="#e8e8e8" stroke-width="0.7"/>
<line x1="231.4" x2="323.4" y1="443.3" y2="443.3" stroke="#f3f3f3" stroke-width="0.7"/>
<line x1="231.4" x2="323.4" y1="433.7" y2="433.7" stroke="#e8e8e8" stroke-width="0.7"/>
<rect x="231.4" y="429.5" width="92.0" height="85.3" fill="none" stroke="#a8a8a8" stroke-width="0.9"/>
<rect x="231.4" y="417.8" width="92.0" height="11.7" fill="#d3d3d3" stroke="#a5a5a5" stroke-width="0.8"/>
<text x="277.7" y="426.5" font-size="8.2" text-anchor="middle" fill="#1a1a1a" >93108011</text>
<rect x="326.6" y="429.5" width="92.0" height="85.3" fill="#fff"/>
<line x1="326.6" x2="418.6" y1="510.9" y2="510.9" stroke="#e8e8e8" stroke-width="0.7"/>
<line x1="326.6" x2="418.6" y1="501.2" y2="501.2" stroke="#f3f3f3" stroke-width="0.7"/>
<line x1="326.6" x2="418.6" y1="491.6" y2="491.6" stroke="#e8e8e8" stroke-width="0.7"/>
<line x1="326.6" x2="418.6" y1="481.9" y2="481.9" stroke="#f3f3f3" stroke-width="0.7"/>
<line x1="326.6" x2="418.6" y1="472.3" y2="472.3" stroke="#e8e8e8" stroke-width="0.7"/>
<line x1="326.6" x2="418.6" y1="462.6" y2="462.6" stroke="#f3f3f3" stroke-width="0.7"/>
<line x1="326.6" x2="418.6" y1="453.0" y2="453.0" stroke="#e8e8e8" stroke-width="0.7"/>
<line x1="326.6" x2="418.6" y1="443.3" y2="443.3" stroke="#f3f3f3" stroke-width="0.7"/>
<line x1="326.6" x2="418.6" y1="433.7" y2="433.7" stroke="#e8e8e8" stroke-width="0.7"/>
<rect x="326.6" y="429.5" width="92.0" height="85.3" fill="none" stroke="#a8a8a8" stroke-width="0.9"/>
<rect x="326.6" y="417.8" width="92.0" height="11.7" fill="#d3d3d3" stroke="#a5a5a5" stroke-width="0.8"/>
<text x="372.9" y="426.5" font-size="8.2" text-anchor="middle" fill="#1a1a1a" >93108262</text>
<text x="0" y="0" font-size="9.6" text-anchor="middle" fill="#1a1a1a" stroke="#1a1a1a" stroke-width="0.12" transform="translate(15.9,422.7) rotate(-90)">Methylation level</text>
<line x1="45.0" x2="63.0" y1="407.4" y2="407.4" stroke="#1212c4" stroke-width="1.5"/>
<polygon points="49.5,403.1 46.4,408.4 52.6,408.4" fill="none" stroke="#1212c4" stroke-width="0.85"/>
<polygon points="54.6,403.1 51.5,408.4 57.7,408.4" fill="none" stroke="#1212c4" stroke-width="0.85"/>
<polygon points="57.5,404.0 54.4,409.3 60.6,409.3" fill="none" stroke="#1212c4" stroke-width="0.85"/>
<line x1="66.9" x2="84.9" y1="409.7" y2="409.7" stroke="#16c016" stroke-width="1.5"/>
<rect x="70.5" y="407.6" width="5.0" height="5.0" fill="none" stroke="#58ac58" stroke-width="0.7"/>
<rect x="74.0" y="407.6" width="5.0" height="5.0" fill="none" stroke="#58ac58" stroke-width="0.7"/>
<rect x="76.8" y="407.6" width="5.0" height="5.0" fill="none" stroke="#58ac58" stroke-width="0.7"/>
<line x1="88.8" x2="106.8" y1="408.3" y2="408.3" stroke="#1212c4" stroke-width="1.5"/>
<polygon points="91.2,404.9 87.9,410.4 94.5,410.4" fill="#1212c4"/>
<polygon points="102.2,404.9 98.9,410.4 105.5,410.4" fill="#1212c4"/>
<polygon points="95.0,406.4 91.7,411.9 98.3,411.9" fill="#1212c4"/>
<line x1="110.7" x2="128.7" y1="409.2" y2="409.2" stroke="#16c016" stroke-width="1.5"/>
<rect x="124.1" y="406.4" width="5.4" height="5.4" fill="#16c016"/>
<rect x="122.8" y="407.1" width="5.4" height="5.4" fill="#16c016"/>
<line x1="140.3" x2="158.3" y1="398.5" y2="398.5" stroke="#1212c4" stroke-width="1.5"/>
<polygon points="140.0,395.0 136.9,400.3 143.1,400.3" fill="none" stroke="#1212c4" stroke-width="0.85"/>
<polygon points="145.0,395.0 141.9,400.3 148.1,400.3" fill="none" stroke="#1212c4" stroke-width="0.85"/>
<polygon points="150.0,394.7 146.9,400.0 153.1,400.0" fill="none" stroke="#1212c4" stroke-width="0.85"/>
<line x1="162.2" x2="180.2" y1="395.8" y2="395.8" stroke="#16c016" stroke-width="1.5"/>
<rect x="163.5" y="393.3" width="5.0" height="5.0" fill="none" stroke="#58ac58" stroke-width="0.7"/>
<rect x="167.5" y="393.8" width="5.0" height="5.0" fill="none" stroke="#58ac58" stroke-width="0.7"/>
<rect x="170.5" y="393.3" width="5.0" height="5.0" fill="none" stroke="#58ac58" stroke-width="0.7"/>
<line x1="184.1" x2="202.1" y1="380.6" y2="380.6" stroke="#1212c4" stroke-width="1.5"/>
<polygon points="192.5,376.4 189.2,381.9 195.8,381.9" fill="#1212c4"/>
<polygon points="190.0,378.9 186.7,384.4 193.3,384.4" fill="#1212c4"/>
<polygon points="195.0,378.9 191.7,384.4 198.3,384.4" fill="#1212c4"/>
<line x1="206.0" x2="224.0" y1="402.2" y2="402.2" stroke="#16c016" stroke-width="1.5"/>
<rect x="206.8" y="400.9" width="5.4" height="5.4" fill="#16c016"/>
<rect x="220.1" y="399.8" width="5.4" height="5.4" fill="#16c016"/>
<line x1="235.6" x2="253.6" y1="404.7" y2="404.7" stroke="#1212c4" stroke-width="1.5"/>
<polygon points="237.0,402.0 233.9,407.3 240.1,407.3" fill="none" stroke="#1212c4" stroke-width="0.85"/>
<polygon points="238.5,403.0 235.4,408.3 241.6,408.3" fill="none" stroke="#1212c4" stroke-width="0.85"/>
<polygon points="240.0,402.3 236.9,407.6 243.1,407.6" fill="none" stroke="#1212c4" stroke-width="0.85"/>
<line x1="257.5" x2="275.5" y1="402.9" y2="402.9" stroke="#16c016" stroke-width="1.5"/>
<rect x="257.5" y="400.0" width="5.0" height="5.0" fill="none" stroke="#58ac58" stroke-width="0.7"/>
<rect x="271.3" y="401.6" width="5.0" height="5.0" fill="none" stroke="#58ac58" stroke-width="0.7"/>
<line x1="279.4" x2="297.4" y1="406.5" y2="406.5" stroke="#1212c4" stroke-width="1.5"/>
<polygon points="283.0,402.4 279.7,407.9 286.3,407.9" fill="#1212c4"/>
<polygon points="288.5,401.9 285.2,407.4 291.8,407.4" fill="#1212c4"/>
<polygon points="291.2,401.9 287.9,407.4 294.5,407.4" fill="#1212c4"/>
<line x1="301.3" x2="319.3" y1="403.2" y2="403.2" stroke="#16c016" stroke-width="1.5"/>
<rect x="306.3" y="400.9" width="5.4" height="5.4" fill="#16c016"/>
<rect x="310.3" y="400.9" width="5.4" height="5.4" fill="#16c016"/>
<rect x="313.6" y="400.9" width="5.4" height="5.4" fill="#16c016"/>
<line x1="330.8" x2="348.8" y1="407.4" y2="407.4" stroke="#1212c4" stroke-width="1.5"/>
<polygon points="336.0,403.5 332.9,408.8 339.1,408.8" fill="none" stroke="#1212c4" stroke-width="0.85"/>
<polygon points="345.1,403.5 342.0,408.8 348.2,408.8" fill="none" stroke="#1212c4" stroke-width="0.85"/>
<line x1="352.7" x2="370.7" y1="407.4" y2="407.4" stroke="#16c016" stroke-width="1.5"/>
<rect x="355.5" y="405.3" width="5.0" height="5.0" fill="none" stroke="#58ac58" stroke-width="0.7"/>
<rect x="366.8" y="404.8" width="5.0" height="5.0" fill="none" stroke="#58ac58" stroke-width="0.7"/>
<line x1="374.6" x2="392.6" y1="407.0" y2="407.0" stroke="#1212c4" stroke-width="1.5"/>
<polygon points="384.4,403.4 381.1,408.9 387.7,408.9" fill="#1212c4"/>
<polygon points="389.9,403.4 386.6,408.9 393.2,408.9" fill="#1212c4"/>
<line x1="396.5" x2="414.5" y1="407.4" y2="407.4" stroke="#16c016" stroke-width="1.5"/>
<rect x="395.0" y="405.5" width="5.4" height="5.4" fill="#16c016"/>
<rect x="405.0" y="404.1" width="5.4" height="5.4" fill="#16c016"/>
<line x1="426.0" x2="444.0" y1="406.5" y2="406.5" stroke="#1212c4" stroke-width="1.5"/>
<polygon points="433.7,403.0 430.6,408.3 436.8,408.3" fill="none" stroke="#1212c4" stroke-width="0.85"/>
<polygon points="437.4,403.0 434.3,408.3 440.5,408.3" fill="none" stroke="#1212c4" stroke-width="0.85"/>
<polygon points="441.0,403.0 437.9,408.3 444.1,408.3" fill="none" stroke="#1212c4" stroke-width="0.85"/>
<line x1="447.9" x2="465.9" y1="406.5" y2="406.5" stroke="#16c016" stroke-width="1.5"/>
<rect x="455.0" y="404.8" width="5.0" height="5.0" fill="none" stroke="#58ac58" stroke-width="0.7"/>
<rect x="458.5" y="404.8" width="5.0" height="5.0" fill="none" stroke="#58ac58" stroke-width="0.7"/>
<line x1="469.8" x2="487.8" y1="405.6" y2="405.6" stroke="#1212c4" stroke-width="1.5"/>
<polygon points="473.0,401.9 469.7,407.4 476.3,407.4" fill="#1212c4"/>
<polygon points="478.5,401.9 475.2,407.4 481.8,407.4" fill="#1212c4"/>
<line x1="491.7" x2="509.7" y1="407.0" y2="407.0" stroke="#16c016" stroke-width="1.5"/>
<rect x="492.3" y="404.6" width="5.4" height="5.4" fill="#16c016"/>
<rect x="497.3" y="404.6" width="5.4" height="5.4" fill="#16c016"/>
<rect x="502.3" y="404.6" width="5.4" height="5.4" fill="#16c016"/>
<line x1="45.0" x2="63.0" y1="499.2" y2="499.2" stroke="#1212c4" stroke-width="1.5"/>
<polygon points="45.5,496.3 42.4,501.6 48.6,501.6" fill="none" stroke="#1212c4" stroke-width="0.85"/>
<polygon points="48.2,496.3 45.1,501.6 51.3,501.6" fill="none" stroke="#1212c4" stroke-width="0.85"/>
<polygon points="52.8,496.3 49.7,501.6 55.9,501.6" fill="none" stroke="#1212c4" stroke-width="0.85"/>
<line x1="66.9" x2="84.9" y1="499.2" y2="499.2" stroke="#16c016" stroke-width="1.5"/>
<rect x="74.0" y="497.3" width="5.0" height="5.0" fill="none" stroke="#58ac58" stroke-width="0.7"/>
<rect x="80.5" y="497.3" width="5.0" height="5.0" fill="none" stroke="#58ac58" stroke-width="0.7"/>
<line x1="88.8" x2="106.8" y1="499.2" y2="499.2" stroke="#1212c4" stroke-width="1.5"/>
<polygon points="92.0,496.7 88.7,502.2 95.3,502.2" fill="#1212c4"/>
<polygon points="96.7,496.7 93.4,502.2 100.0,502.2" fill="#1212c4"/>
<polygon points="103.0,496.7 99.7,502.2 106.3,502.2" fill="#1212c4"/>
<line x1="110.7" x2="128.7" y1="498.3" y2="498.3" stroke="#16c016" stroke-width="1.5"/>
<rect x="116.8" y="495.9" width="5.4" height="5.4" fill="#16c016"/>
<rect x="121.3" y="495.9" width="5.4" height="5.4" fill="#16c016"/>
<rect x="125.3" y="495.9" width="5.4" height="5.4" fill="#16c016"/>
<line x1="140.3" x2="158.3" y1="506.6" y2="506.6" stroke="#1212c4" stroke-width="1.5"/>
<polygon points="150.5,502.7 147.4,508.0 153.6,508.0" fill="none" stroke="#1212c4" stroke-width="0.85"/>
<polygon points="155.1,502.7 152.0,508.0 158.2,508.0" fill="none" stroke="#1212c4" stroke-width="0.85"/>
<polygon points="152.0,504.0 148.9,509.3 155.1,509.3" fill="none" stroke="#1212c4" stroke-width="0.85"/>
<line x1="162.2" x2="180.2" y1="506.6" y2="506.6" stroke="#16c016" stroke-width="1.5"/>
<rect x="162.7" y="504.0" width="5.0" height="5.0" fill="none" stroke="#58ac58" stroke-width="0.7"/>
<rect x="170.0" y="504.0" width="5.0" height="5.0" fill="none" stroke="#58ac58" stroke-width="0.7"/>
<rect x="173.5" y="504.0" width="5.0" height="5.0" fill="none" stroke="#58ac58" stroke-width="0.7"/>
<line x1="184.1" x2="202.1" y1="506.6" y2="506.6" stroke="#1212c4" stroke-width="1.5"/>
<polygon points="188.0,502.9 184.7,508.4 191.3,508.4" fill="#1212c4"/>
<polygon points="195.3,502.9 192.0,508.4 198.6,508.4" fill="#1212c4"/>
<polygon points="199.0,502.9 195.7,508.4 202.3,508.4" fill="#1212c4"/>
<line x1="206.0" x2="224.0" y1="505.6" y2="505.6" stroke="#16c016" stroke-width="1.5"/>
<rect x="210.8" y="503.3" width="5.4" height="5.4" fill="#16c016"/>
<rect x="215.8" y="503.3" width="5.4" height="5.4" fill="#16c016"/>
<line x1="235.6" x2="253.6" y1="506.0" y2="506.0" stroke="#1212c4" stroke-width="1.5"/>
<polygon points="237.0,502.7 233.9,508.0 240.1,508.0" fill="none" stroke="#1212c4" stroke-width="0.85"/>
<polygon points="239.0,503.0 235.9,508.3 242.1,508.3" fill="none" stroke="#1212c4" stroke-width="0.85"/>
<line x1="257.5" x2="275.5" y1="507.2" y2="507.2" stroke="#16c016" stroke-width="1.5"/>
<rect x="259.5" y="504.9" width="5.0" height="5.0" fill="none" stroke="#58ac58" stroke-width="0.7"/>
<rect x="264.5" y="504.9" width="5.0" height="5.0" fill="none" stroke="#58ac58" stroke-width="0.7"/>
<rect x="268.5" y="504.9" width="5.0" height="5.0" fill="none" stroke="#58ac58" stroke-width="0.7"/>
<line x1="279.4" x2="297.4" y1="505.3" y2="505.3" stroke="#1212c4" stroke-width="1.5"/>
<polygon points="284.8,503.4 281.5,508.9 288.1,508.9" fill="#1212c4"/>
<polygon points="294.0,501.7 290.7,507.2 297.3,507.2" fill="#1212c4"/>
<line x1="301.3" x2="319.3" y1="501.7" y2="501.7" stroke="#16c016" stroke-width="1.5"/>
<rect x="304.8" y="498.9" width="5.4" height="5.4" fill="#16c016"/>
<rect x="309.8" y="498.9" width="5.4" height="5.4" fill="#16c016"/>
<line x1="330.8" x2="348.8" y1="507.2" y2="507.2" stroke="#1212c4" stroke-width="1.5"/>
<polygon points="334.0,502.9 330.9,508.2 337.1,508.2" fill="none" stroke="#1212c4" stroke-width="0.85"/>
<polygon points="343.3,502.9 340.2,508.2 346.4,508.2" fill="none" stroke="#1212c4" stroke-width="0.85"/>
<line x1="352.7" x2="370.7" y1="506.6" y2="506.6" stroke="#16c016" stroke-width="1.5"/>
<rect x="357.5" y="504.6" width="5.0" height="5.0" fill="none" stroke="#58ac58" stroke-width="0.7"/>
<rect x="362.5" y="504.6" width="5.0" height="5.0" fill="none" stroke="#58ac58" stroke-width="0.7"/>
<line x1="374.6" x2="392.6" y1="507.2" y2="507.2" stroke="#1212c4" stroke-width="1.5"/>
<polygon points="377.0,502.8 373.7,508.3 380.3,508.3" fill="#1212c4"/>
<polygon points="388.0,502.8 384.7,508.3 391.3,508.3" fill="#1212c4"/>
<line x1="396.5" x2="414.5" y1="492.0" y2="492.0" stroke="#16c016" stroke-width="1.5"/>
<rect x="395.0" y="490.0" width="5.4" height="5.4" fill="#16c016"/>
<rect x="405.0" y="488.6" width="5.4" height="5.4" fill="#16c016"/>
<circle cx="122.3" cy="398.1" r="1.25" fill="#222"/>
<circle cx="193.1" cy="370.6" r="1.25" fill="#222"/>
<circle cx="217.3" cy="391.2" r="1.25" fill="#222"/>
<circle cx="309" cy="488.7" r="1.25" fill="#222"/>
<circle cx="404" cy="482.4" r="1.25" fill="#222"/>
<polygon points="432.8,449.4 429.2,455.4 436.4,455.4" fill="none" stroke="#4040b0" stroke-width="0.8"/>
<text x="444" y="456.3" font-size="9.6" text-anchor="start" fill="#222" stroke="#222" stroke-width="0.12" >pLVX clone 11</text>
<rect x="430.4" y="467.8" width="4.6" height="4.6" fill="none" stroke="#60b060" stroke-width="0.8"/>
<text x="444" y="474.2" font-size="9.6" text-anchor="start" fill="#222" stroke="#222" stroke-width="0.12" >pLVX clone 17</text>
<polygon points="432.6,484.2 429.2,490.0 436.0,490.0" fill="#1212c4"/>
<text x="444" y="491.2" font-size="9.6" text-anchor="start" fill="#222" stroke="#222" stroke-width="0.12" >R140Q clone 11</text>
<rect x="430.0" y="502.5" width="5.2" height="5.2" fill="#16c016"/>
<text x="444" y="508.3" font-size="9.6" text-anchor="start" fill="#222" stroke="#222" stroke-width="0.12" >R140Q clone 17</text>
</svg></body></html>
